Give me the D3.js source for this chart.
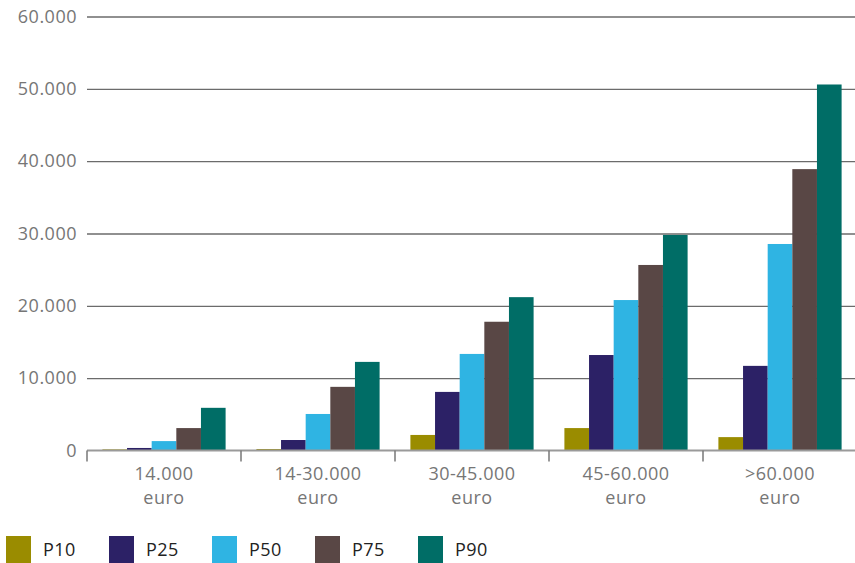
<!DOCTYPE html>
<html lang="nl">
<head>
<meta charset="utf-8">
<title>Percentielen per inkomensklasse</title>
<script src="https://d3js.org/d3.v7.min.js"></script>
<style>
  body { margin: 0; background: #fff; }
  svg text { font-family: "Open Sans", "Noto Sans", sans-serif; }
</style>
</head>
<body>
<div id="chart"></div>
<script>
// categories and series
var categories = ["14.000|euro", "14-30.000|euro", "30-45.000|euro", "45-60.000|euro", ">60.000|euro"];
var series = ["P10", "P25", "P50", "P75", "P90"];
var colors = ["#9a8c00", "#2c2166", "#2fb4e3", "#594745", "#006d66"];

// values per series (one per category)
var p10 = [150, 200, 2150, 3100, 1850];
var p25 = [350, 1450, 8100, 13200, 11700];
var p50 = [1300, 5050, 13350, 20800, 28550];
var p75 = [3100, 8800, 17800, 25650, 38900];
var p90 = [5900, 12250, 21200, 29800, 50600];
var values = [p10, p25, p50, p75, p90];

var yTicks = [0, 10000, 20000, 30000, 40000, 50000, 60000];

var width = 855, height = 563;
var margin = {top: 16.5, right: -2, bottom: 112.5, left: 87};

var svg = d3.select("#chart").append("svg")
    .attr("width", width)
    .attr("height", height);

var x0 = d3.scaleBand()
    .domain(categories)
    .range([margin.left, width - margin.right])
    .paddingInner(0.2)
    .paddingOuter(0.1);

var x1 = d3.scaleBand()
    .domain(series)
    .range([0, x0.bandwidth()]);

var y = d3.scaleLinear()
    .domain([0, 60000])
    .range([height - margin.bottom, margin.top]);

var fmt = function(d) { return d3.format(",")(d).replace(/,/g, "."); };

// gridlines + y labels
var yAxis = svg.append("g")
    .attr("transform", "translate(" + margin.left + ",0)")
    .call(d3.axisLeft(y).tickValues(yTicks).tickFormat(fmt)
        .tickSize(-(width - margin.left)).tickPadding(10));
yAxis.select(".domain").remove();
yAxis.selectAll(".tick line")
    .attr("stroke", function(d) { return d === 0 ? "none" : "#6b6b6b"; })
    .attr("stroke-width", 1.3);
yAxis.selectAll(".tick text")
    .attr("fill", "#767676")
    .style("font-size", "18px")
    .style("letter-spacing", "0.5px");

// bars
var groups = svg.append("g").selectAll("g")
    .data(categories)
    .enter().append("g")
    .attr("transform", function(d) { return "translate(" + x0(d) + ",0)"; });

groups.selectAll("rect")
    .data(function(d, i) { return series.map(function(s, j) { return {s: s, v: values[j][i], c: colors[j]}; }); })
    .enter().append("rect")
    .attr("x", function(d) { return x1(d.s); })
    .attr("width", x1.bandwidth())
    .attr("y", function(d) { return y(d.v); })
    .attr("height", function(d) { return y(0) - y(d.v); })
    .attr("fill", function(d) { return d.c; });

// x axis baseline and category separators
var base = y(0);
svg.append("line")
    .attr("x1", margin.left).attr("x2", width)
    .attr("y1", base).attr("y2", base)
    .attr("stroke", "#9a9a9a").attr("stroke-width", 1.8);

var step = x0.step();
var sepX = categories.map(function(c) { return x0(c) - step * 0.1; });
svg.append("g").selectAll("line")
    .data(sepX)
    .enter().append("line")
    .attr("x1", function(d) { return d; }).attr("x2", function(d) { return d; })
    .attr("y1", base).attr("y2", base + 11)
    .attr("stroke", "#777").attr("stroke-width", 1.5);

// category labels, two lines each
var labelRows = [0, 1];
labelRows.forEach(function(row) {
  svg.append("g").selectAll("text")
      .data(categories)
      .enter().append("text")
      .attr("x", function(d) { return x0(d) + x0.bandwidth() / 2; })
      .attr("y", 480 + row * 24)
      .attr("text-anchor", "middle")
      .attr("fill", "#767676")
      .style("font-size", "18px")
      .style("letter-spacing", "0.5px")
      .text(function(d) { return d.split("|")[row]; });
});

// legend
var legend = svg.append("g").selectAll("g")
    .data(series)
    .enter().append("g")
    .attr("transform", function(d, i) { return "translate(" + (6 + i * 103) + ",536)"; });
legend.append("rect")
    .attr("width", 25).attr("height", 27)
    .attr("fill", function(d, i) { return colors[i]; });
legend.append("text")
    .attr("x", 37).attr("y", 20)
    .attr("fill", "#222")
    .style("font-size", "18px")
    .style("letter-spacing", "0.5px")
    .text(function(d) { return d; });
</script>
</body>
</html>
